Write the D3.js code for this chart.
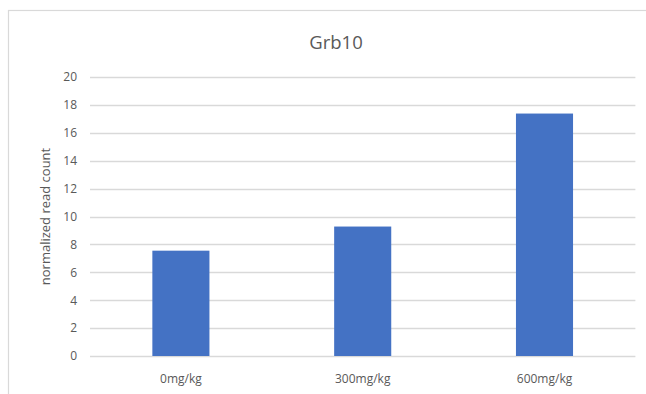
<!DOCTYPE html>
<html>
<head>
<meta charset="utf-8">
<script src="https://cdn.jsdelivr.net/npm/d3@7"></script>
<style>
  html, body { margin: 0; padding: 0; background: #fff; }
  svg { display: block; font-family: "Open Sans", "Noto Sans", sans-serif; }
</style>
</head>
<body>
<svg id="chart" width="646" height="394"></svg>
<script>
// Grb10 expression by dose
const categories = ["0mg/kg", "300mg/kg", "600mg/kg"];
const readCounts = [7.55, 9.28, 17.38];
const yTicks = [0, 2, 4, 6, 8, 10, 12, 14, 16, 18, 20];

const svg = d3.select("#chart");
const W = 646, H = 394;
const margin = { left: 90, right: 10.6, top: 77, bottom: 38 };
const innerW = W - margin.left - margin.right;
const innerH = H - margin.top - margin.bottom;

// chart area frame
svg.append("rect")
  .attr("x", 8.5).attr("y", 10.5)
  .attr("width", 700).attr("height", 420)
  .attr("fill", "#fff")
  .attr("stroke", "#d9d9d9").attr("stroke-width", 1.2);

const x = d3.scaleBand()
  .domain(categories)
  .range([margin.left, margin.left + innerW])
  .paddingInner(0.686).paddingOuter(0.343);

const y = d3.scaleLinear()
  .domain([0, 20])
  .range([margin.top + innerH, margin.top]);

// horizontal gridlines
svg.append("g")
  .selectAll("line")
  .data(yTicks)
  .join("line")
  .attr("x1", margin.left).attr("x2", margin.left + innerW)
  .attr("y1", d => Math.round(y(d)) + 0.5).attr("y2", d => Math.round(y(d)) + 0.5)
  .attr("stroke", "#d9d9d9").attr("stroke-width", 1.3);

// y axis labels
const yAxis = d3.axisLeft(y).tickValues(yTicks).tickSize(0).tickPadding(0);
svg.append("g")
  .attr("transform", `translate(${margin.left - 13},0)`)
  .call(yAxis)
  .call(g => g.select(".domain").remove())
  .call(g => g.selectAll("text")
    .attr("fill", "#595959")
    .style("font-size", "12px")
    .style("font-family", "'Open Sans', sans-serif"));

// bars
svg.append("g")
  .selectAll("rect")
  .data(readCounts)
  .join("rect")
  .attr("x", (d, i) => x(categories[i]))
  .attr("y", d => y(d))
  .attr("width", x.bandwidth())
  .attr("height", d => y(0) - y(d))
  .attr("fill", "#4472C4");

// x axis
const xAxis = d3.axisBottom(x).tickSize(0).tickPadding(0);
svg.append("g")
  .attr("transform", `translate(0,${y(0)})`)
  .call(xAxis)
  .call(g => g.select(".domain").remove())
  .call(g => g.selectAll("text")
    .attr("dy", "0")
    .attr("y", 27)
    .attr("fill", "#595959")
    .style("font-size", "12px")
    .style("font-family", "'Open Sans', sans-serif"));

// y axis title
svg.append("text")
  .attr("transform", `translate(50,${margin.top + innerH / 2}) rotate(-90)`)
  .attr("text-anchor", "middle")
  .attr("fill", "#595959")
  .style("font-size", "13px")
  .text("normalized read count");

// chart title
svg.append("text")
  .attr("x", 336).attr("y", 49)
  .attr("text-anchor", "middle")
  .attr("fill", "#595959")
  .style("font-size", "18.5px")
  .text("Grb10");
</script>
</body>
</html>
